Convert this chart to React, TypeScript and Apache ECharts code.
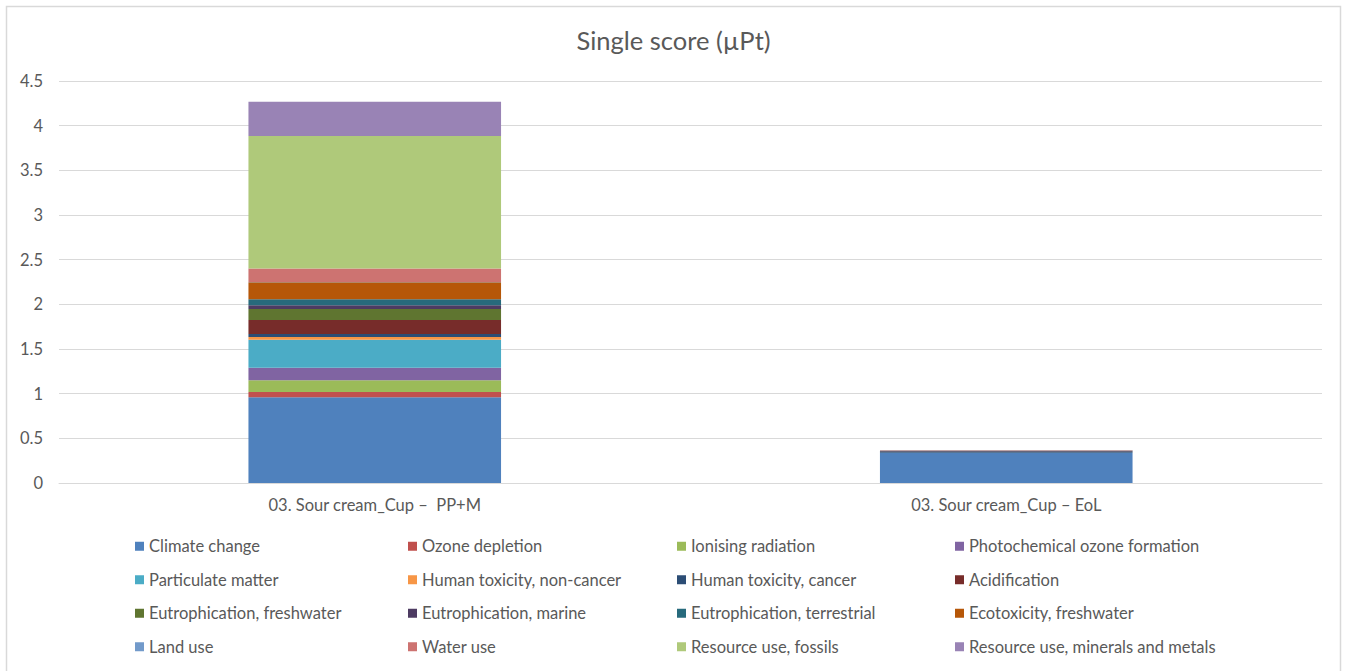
import React, { useEffect, useRef } from "react";
import * as echarts from "echarts";

const categories = ["03. Sour cream_Cup –  PP+M", "03. Sour cream_Cup – EoL"];

const seriesNames = [
  "Climate change",
  "Ozone depletion",
  "Ionising radiation",
  "Photochemical ozone formation",
  "Particulate matter",
  "Human toxicity, non-cancer",
  "Human toxicity, cancer",
  "Acidification",
  "Eutrophication, freshwater",
  "Eutrophication, marine",
  "Eutrophication, terrestrial",
  "Ecotoxicity, freshwater",
  "Land use",
  "Water use",
  "Resource use, fossils",
  "Resource use, minerals and metals",
];

const seriesColors = [
  "#4F81BD", "#C0504D", "#9BBB59", "#8064A2",
  "#4BACC6", "#F79646", "#2C4D75", "#772C2A",
  "#5F7530", "#4D3B62", "#276A7C", "#B65708",
  "#729ACA", "#CD7371", "#AFC97A", "#9983B5",
];

// values per series: [PP+M, EoL]
const climateChange = [0.959, 0.335];
const ozoneDepletion = [0.06, 0.0003];
const ionisingRadiation = [0.13, 0.0005];
const photochemical = [0.142, 0.001];
const particulateMatter = [0.313, 0.001];
const humanToxNonCancer = [0.03, 0.0005];
const humanToxCancer = [0.034, 0.018];
const acidification = [0.157, 0.001];
const eutroFreshwater = [0.123, 0.0005];
const eutroMarine = [0.041, 0.003];
const eutroTerrestrial = [0.067, 0.001];
const ecotoxFreshwater = [0.191, 0.001];
const landUse = [0.004, 0.0003];
const waterUse = [0.149, 0.0005];
const resourceFossils = [1.485, 0.0005];
const resourceMinerals = [0.384, 0.002];

const seriesValues = [
  climateChange, ozoneDepletion, ionisingRadiation, photochemical,
  particulateMatter, humanToxNonCancer, humanToxCancer, acidification,
  eutroFreshwater, eutroMarine, eutroTerrestrial, ecotoxFreshwater,
  landUse, waterUse, resourceFossils, resourceMinerals,
];

const FONT = "Lato, 'Noto Sans', sans-serif";
const TEXT = "#595959";

export default function App() {
  const ref = useRef<HTMLDivElement>(null);
  useEffect(() => {
    document.body.style.margin = "0";
    const chart = echarts.init(ref.current!, null, { renderer: "svg" });
    const colX = [130, 403, 672, 950];
    const legends = colX.map((x, c) => ({
      orient: "vertical",
      left: x,
      top: 532,
      itemWidth: 9,
      itemHeight: 9,
      itemGap: 15,
      icon: "rect",
      selectedMode: false,
      data: [0, 1, 2, 3].map((r) => seriesNames[r * 4 + c]),
      textStyle: { fontFamily: FONT, fontSize: 16.5, color: TEXT, lineHeight: 18.5 },
    }));
    chart.setOption({
      animation: false,
      backgroundColor: "#fff",
      title: {
        text: "Single score (µPt)",
        left: "center",
        top: 22,
        textStyle: { fontFamily: FONT, fontSize: 25.5, fontWeight: "normal", color: TEXT },
      },
      graphic: [
        {
          type: "rect",
          shape: { x: 6.5, y: 6.5, width: 1334, height: 680 },
          style: { fill: "none", stroke: "#D9D9D9", lineWidth: 1.5 },
          silent: true,
        },
      ],
      legend: legends,
      grid: { left: 59, right: 25, top: 81, height: 402 },
      xAxis: {
        type: "category",
        data: categories,
        axisLine: { lineStyle: { color: "#D9D9D9", width: 1 } },
        axisTick: { show: false },
        axisLabel: { fontFamily: FONT, fontSize: 16.5, color: TEXT, margin: 13 },
      },
      yAxis: {
        type: "value",
        min: 0,
        max: 4.5,
        interval: 0.5,
        axisLine: { show: false },
        axisTick: { show: false },
        splitLine: { lineStyle: { color: "#D9D9D9", width: 1 } },
        axisLabel: { fontFamily: FONT, fontSize: 16.5, color: TEXT, margin: 16 },
      },
      series: seriesNames.map((name, i) => ({
        name,
        type: "bar",
        stack: "total",
        barWidth: "40%",
        data: seriesValues[i],
        itemStyle: { color: seriesColors[i] },
      })),
    });
    return () => chart.dispose();
  }, []);
  return <div ref={ref} style={{ width: 1347, height: 671 }} />;
}
